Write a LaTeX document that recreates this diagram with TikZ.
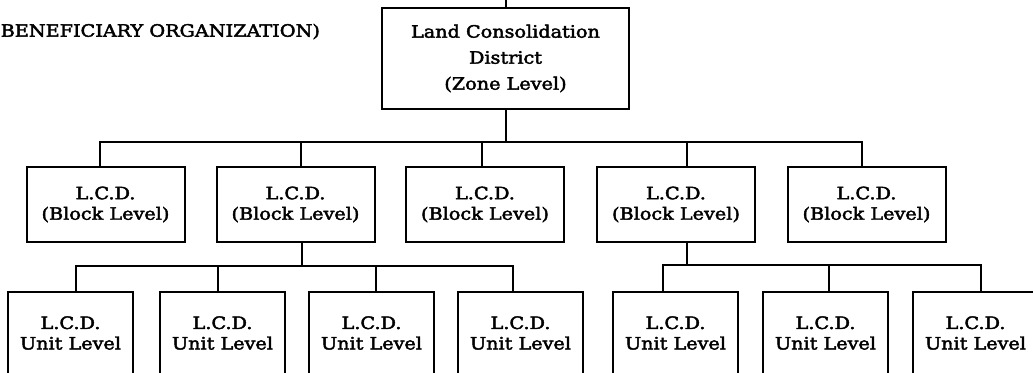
\documentclass[tikz,border=0pt]{standalone}
\usepackage{fontspec}
\setmainfont[FakeStretch=1.13, FakeBold=2.5]{DejaVu Serif}
\begin{document}
\begin{tikzpicture}[x=1pt,y=1pt,
  every node/.style={font=\fontsize{17}{20.5}\selectfont},
  org/.style={draw, line width=2pt, align=center, inner sep=0pt},
  topbox/.style={org, minimum width=247, minimum height=101,
    font=\fontsize{17}{26}\selectfont},
  blockbox/.style={org, minimum width=158, minimum height=75},
  unitbox/.style={org, minimum width=125, minimum height=82},
  link/.style={line width=2pt}]
\clip (0,0) rectangle (1033,-372);

% heading
\node[anchor=base west, inner sep=0pt] (head) at (0.5,-36.7) {BENEFICIARY ORGANIZATION)};

% zone level
\node[topbox] (zone) at (505.5,-58.5) {Land Consolidation\\District\\(Zone Level)};
\coordinate (above) at (505.5,4);
\draw[link] (zone.north) -- (above);

% block level
\foreach \n/\x in {1/105.5, 2/295.5, 3/485, 4/676, 5/866.5}
  \node[blockbox] (b\n) at (\x,-204.5) {L.C.D.\\(Block Level)};

% unit level
\foreach \n/\x in {1/70.5, 2/222.5, 3/371.5, 4/520.5, 5/675.5, 6/825.5, 7/975.5}
  \node[unitbox] (u\n) at (\x,-333) {L.C.D.\\Unit Level};

% zone -> blocks
\coordinate (j0) at (505.5,-141.7);
\draw[link] (zone.south) -- (j0);
\draw[link] ([xshift=-5.5pt]b1.north) |- (j0);
\draw[link] ([xshift=5pt]b2.north) |- (j0);
\draw[link] ([xshift=-3pt]b3.north) |- (j0);
\draw[link] ([xshift=11pt]b4.north) |- (j0);
\draw[link] ([xshift=-4.5pt]b5.north) |- (j0);

% block 2 -> units 1-4
\coordinate (j2) at (301.5,-266);
\draw[link] ([xshift=6pt]b2.south) -- (j2);
\draw[link] ([xshift=5.5pt]u1.north) |- (j2);
\draw[link] ([xshift=-4.5pt]u2.north) |- (j2);
\draw[link] ([xshift=4.5pt]u3.north) |- (j2);
\draw[link] ([xshift=-7.5pt]u4.north) |- (j2);

% block 4 -> units 5-7
\coordinate (j4) at (687,-265);
\draw[link] ([xshift=11pt]b4.south) -- (j4);
\draw[link] ([xshift=-12.5pt]u5.north) |- (j4);
\draw[link] ([xshift=3pt]u6.north) |- (j4);
\draw[link] ([xshift=5pt]u7.north) |- (j4);
\end{tikzpicture}
\end{document}
